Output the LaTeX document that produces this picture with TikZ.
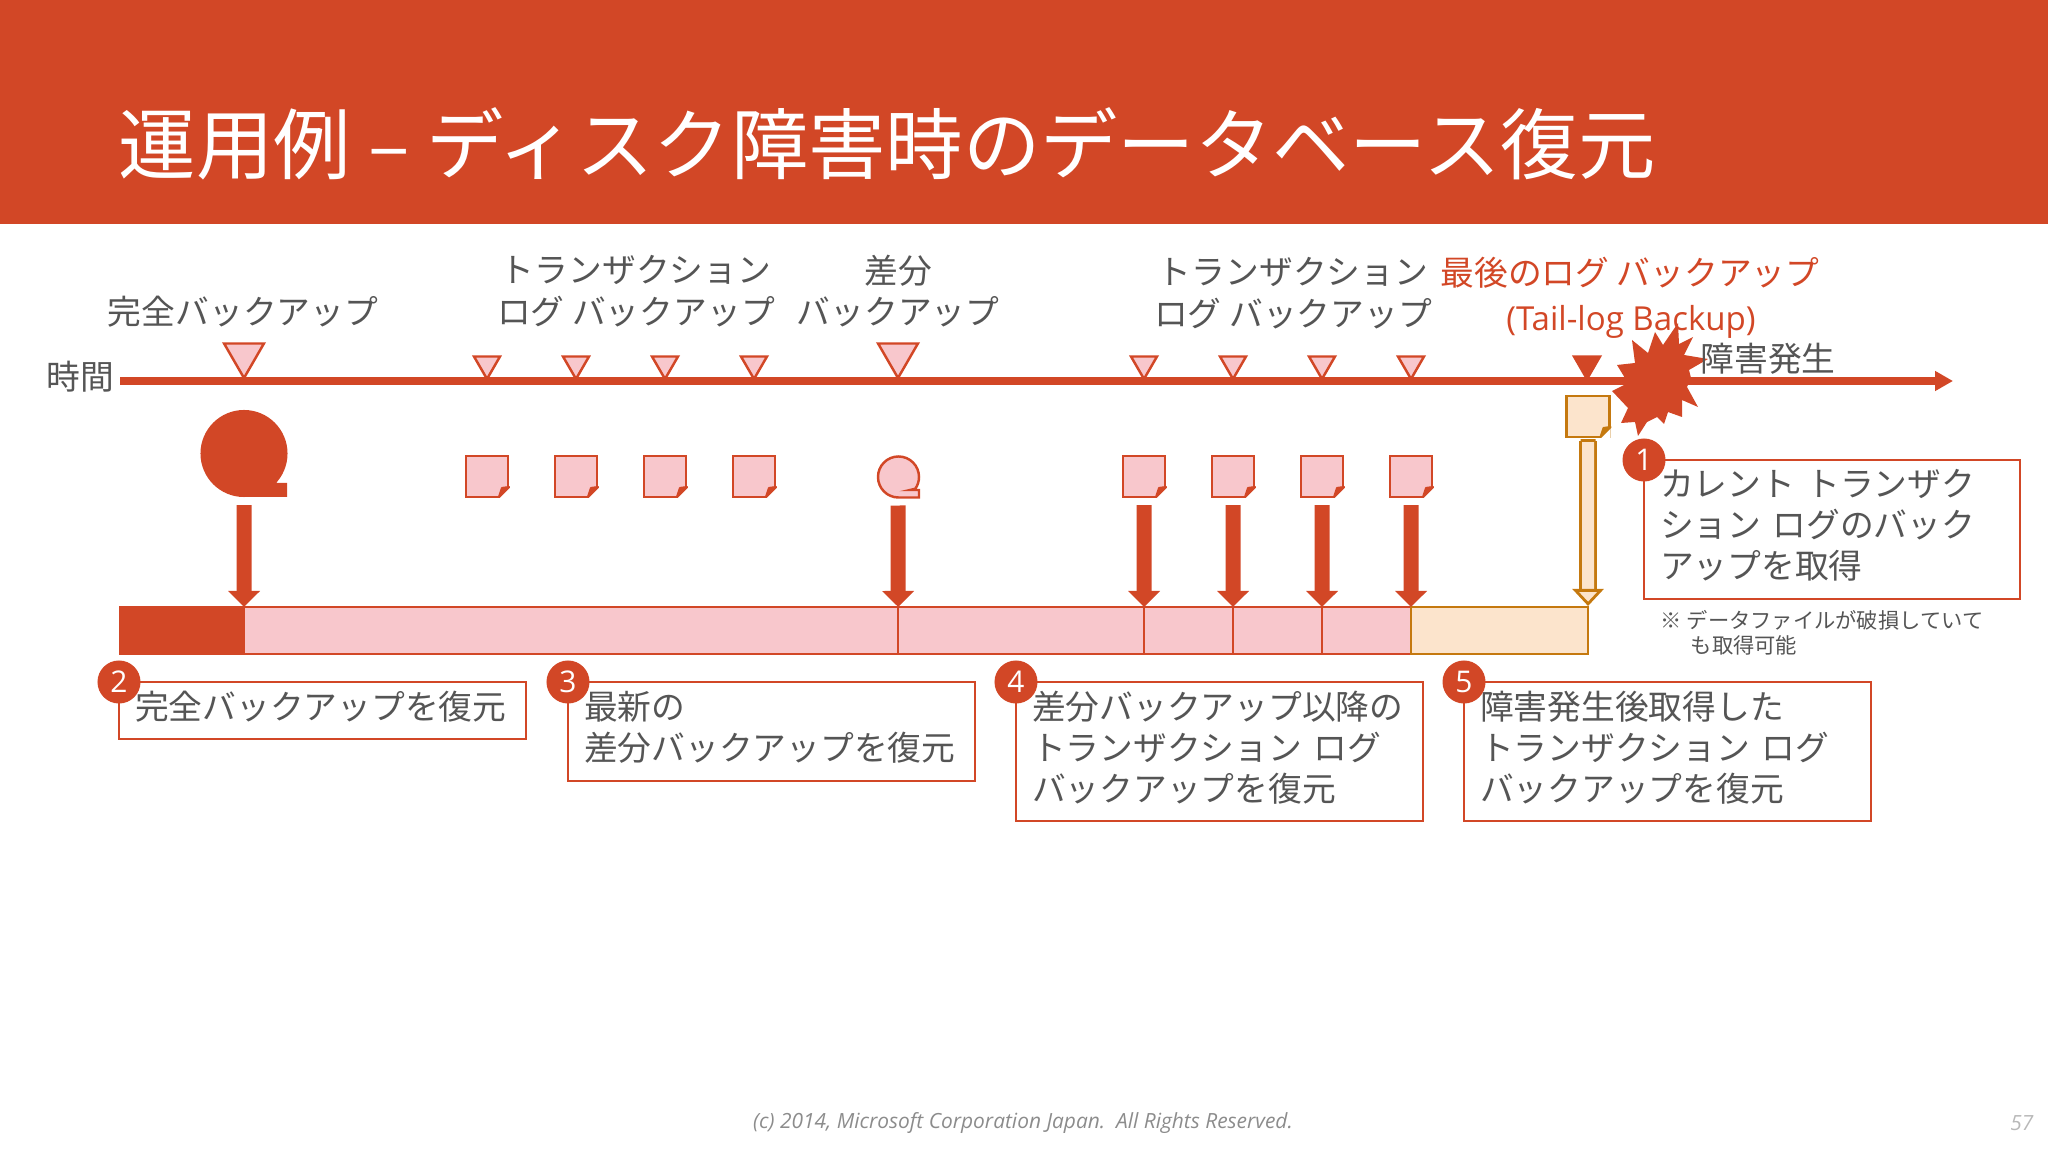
\documentclass[tikz,border=0pt]{standalone}
\usepackage{fontspec}
\setmainfont{Noto Sans CJK JP}
\newfontfamily\latinfont{Open Sans}
\usetikzlibrary{shapes.geometric, arrows.meta, positioning, calc}
\definecolor{brickred}{HTML}{D24726}
\definecolor{softpink}{HTML}{F8C7CC}
\definecolor{peach}{HTML}{FCE4CC}
\definecolor{amber}{HTML}{C5790F}
\definecolor{inkgray}{HTML}{555555}
\newcommand{\calloutpad}{\par\vspace*{0.08cm}}
\newcommand{\docfold}[1]{%
    \fill[white] ($(#1.south east)+(-9,1)$) -- ($(#1.south east)+(1,1)$) -- ($(#1.south east)+(1,-11)$) -- cycle;
    \filldraw[line width=0.6pt, line join=round]
        ($(#1.south east)+(-9,0)$) -- ($(#1.south east)+(1,-10)$) -- ($(#1.south east)+(-6,-9)$) -- cycle;
}
\begin{document}
\begin{tikzpicture}[
    x=0.01cm, y=-0.01cm,
    label/.style={font=\fontsize{9.6}{11.9}\selectfont, text=inkgray, align=center, inner sep=0pt},
    marksmall/.style={regular polygon, regular polygon sides=3, shape border rotate=180,
                      draw=brickred, fill=softpink, line width=0.7pt, minimum size=0.30cm, inner sep=0pt},
    markbig/.style={marksmall, minimum size=0.46cm},
    logdoc/.style={rectangle, draw=brickred, fill=softpink, line width=0.7pt,
                   minimum width=0.42cm, minimum height=0.41cm, inner sep=0pt, outer sep=0pt},
    segment/.style={rectangle, draw=brickred, fill=softpink, line width=0.6pt,
                    minimum height=0.47cm, inner sep=0pt, outer sep=0pt},
    callout/.style={rectangle, draw=brickred, fill=white, line width=0.6pt, text=inkgray,
                    font=\fontsize{9.6}{11.65}\selectfont, align=left, anchor=north west,
                    inner xsep=0.16cm, inner ysep=0pt, outer sep=0pt, text width=3.75cm,
                    execute at end node=\calloutpad},
    badge/.style={circle, fill=brickred, text=white, minimum size=0.43cm, inner sep=0pt,
                  font=\latinfont\fontsize{8.5}{10}\selectfont},
    restore/.style={brickred, line width=0.15cm, shorten <=0.08cm,
                    -{Triangle[length=0.16cm, width=0.31cm]}}
]
\useasboundingbox (0,0) rectangle (2048,1152);
% header
\fill[brickred] (0,0) rectangle (2048,224);
\node[font=\fontsize{22}{26}\selectfont, text=white, anchor=west, inner sep=0pt] (title) at (118,144)
    {運用例 – ディスク障害時のデータベース復元};
% time axis
\coordinate (axisstart) at (120,381);
\coordinate (axisend) at (1953,381);
\draw[brickred, line width=0.08cm, -{Triangle[length=0.18cm, width=0.19cm]}] (axisstart) -- (axisend);
\node[label, anchor=east] (timelbl) at (115,377) {時間};
% markers and backups
\node[markbig] (mfull) at (244,355) {};
\node[markbig] (mdiff) at (898,355) {};
\node[marksmall, fill=brickred] (mtail) at (1587,364) {};
\foreach \x/\n in {487/1,576/2,665/3,754/4,1144/5,1233/6,1322/7,1411/8} {
    \node[marksmall] (mark\n) at (\x,364) {};
    \node[logdoc] (log\n) at (\x,476.5) {};
    \begin{scope}[draw=brickred, fill=brickred]
    \docfold{log\n}
    \end{scope}
}
\fill[brickred] (244,453.5) circle[radius=0.435cm];
\fill[brickred] (244,497) -- (287,497) -- (287,483) -- (277,483) -- (265,470) -- cycle;
\coordinate (tapefull) at (244,497);
\draw[brickred, fill=softpink, line width=0.7pt]
    (898.5,497.5) arc[start angle=270, end angle=-35, radius=0.205cm] -- (910,490) -- (919,490) -- (919,497.5) -- cycle;
\coordinate (tapediff) at (898,497.5);
\node[logdoc, fill=peach, draw=amber, minimum width=0.43cm] (logtail) at (1588,416.5) {};
\begin{scope}[draw=amber, fill=amber]
\docfold{logtail}
\end{scope}
% restore bar
\node[segment, fill=brickred, minimum width=1.24cm] (seg0) at (182,630.5) {};
\node[segment, minimum width=6.54cm] (seg1) at (571,630.5) {};
\node[segment, minimum width=2.46cm] (seg2) at (1021,630.5) {};
\node[segment, minimum width=0.89cm] (seg3) at (1188.5,630.5) {};
\node[segment, minimum width=0.89cm] (seg4) at (1277.5,630.5) {};
\node[segment, minimum width=0.89cm] (seg5) at (1366.5,630.5) {};
\node[segment, fill=peach, draw=amber, line width=0.8pt, minimum width=1.77cm] (seg6) at (1499.5,630.5) {};
% restore arrows
\draw[restore, shorten <=0.08cm] (tapefull) -- (seg0.north east);
\draw[restore] (tapediff) -- (seg1.north east);
\draw[restore] (log5.south) -- (seg2.north east);
\draw[restore] (log6.south) -- (seg3.north east);
\draw[restore] (log7.south) -- (seg4.north east);
\draw[restore] (log8.south) -- (seg5.north east);
\draw[amber, line width=0.8pt, double=peach, double distance=0.12cm, shorten <=0.02cm, shorten >=0.01cm,
      {Bar[width=0.15cm, line width=0.8pt]}-{Triangle[length=0.17cm, width=0.31cm, fill=peach, line width=0.8pt]}]
    (logtail.south) -- (seg6.north east);
% failure
\fill[brickred] (1678,323) -- (1679,344) -- (1693,337) -- (1684,355) -- (1708,359) -- (1689,370)
    -- (1691,378) -- (1687,387) -- (1698,407) -- (1682,400) -- (1682,417) -- (1668,412) -- (1664,424)
    -- (1657,417) -- (1647,422) -- (1638,436) -- (1635,422) -- (1621,423) -- (1628,408) -- (1612,391)
    -- (1628,383) -- (1617,365) -- (1635,363) -- (1632,340) -- (1648,353) -- (1655,332) -- (1663,345) -- cycle;
% labels
\node[label] (lblfull) at (243,312) {完全バックアップ};
\node[label] (lbllog1) at (636,291) {トランザクション\\ログ バックアップ};
\node[label] (lbldiff) at (898,291) {差分\\バックアップ};
\node[label] (lbllog2) at (1293,293) {トランザクション\\ログ バックアップ};
\node[label, text=brickred] (lbltail) at (1630,273) {最後のログ バックアップ};
\node[label, text=brickred, font=\latinfont\fontsize{9.4}{12}\selectfont] (lbltailen) at (1631,322) {(Tail-log Backup)};
\node[label] (lblfail) at (1768,359) {障害発生};
% callouts
\node[callout, minimum width=3.76cm, text width=3.44cm, minimum height=1.39cm] (box1) at (1644,460)
    {カレント トランザク\\ション ログのバック\\アップを取得};
\node[callout, minimum width=4.07cm, minimum height=0.57cm] (box2) at (119,682) {完全バックアップを復元};
\node[callout, minimum width=4.06cm, minimum height=0.99cm] (box3) at (568,682) {最新の\\差分バックアップを復元};
\node[callout, minimum width=4.06cm, minimum height=1.39cm] (box4) at (1016,682)
    {差分バックアップ以降の\\トランザクション ログ\\バックアップを復元};
\node[callout, minimum width=4.06cm, minimum height=1.39cm] (box5) at (1464,682)
    {障害発生後取得した\\トランザクション ログ\\バックアップを復元};
\foreach \n/\t in {box1/1,box2/2,box3/3,box4/4,box5/5} {
    \node[badge] (num\t) at (\n.north west) {\t};
}
\node[font=\fontsize{6.05}{7.1}\selectfont, text=inkgray, align=left, anchor=west, inner sep=0pt] (note) at (1660,633)
    {※ データファイルが破損していて\\\hspace*{0.30cm}も取得可能};
% footer
\node[font=\latinfont\itshape\fontsize{5.95}{8}\selectfont, text=black!45, inner sep=0pt] (footer) at (1023,1123)
    {(c) 2014, Microsoft Corporation Japan.\ \ All Rights Reserved.};
\node[font=\latinfont\itshape\fontsize{5.95}{8}\selectfont, text=black!28, anchor=east, inner sep=0pt] (page) at (2034,1123) {57};
\end{tikzpicture}
\end{document}
